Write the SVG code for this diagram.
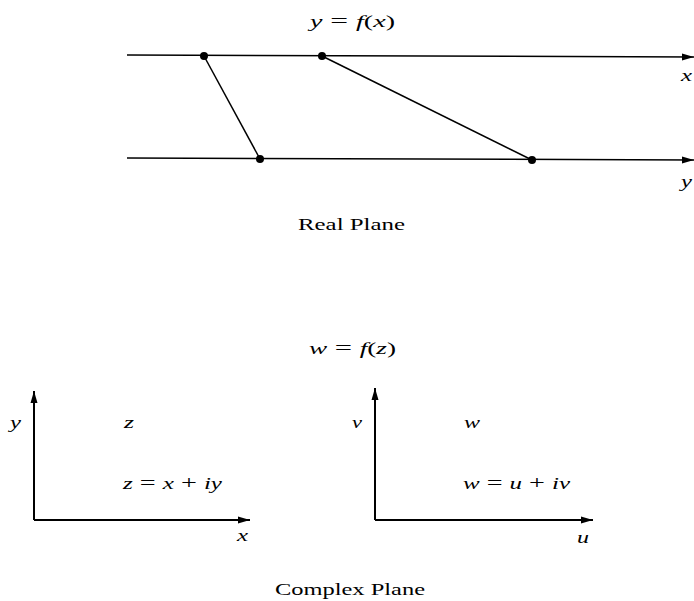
<svg xmlns="http://www.w3.org/2000/svg" width="694" height="601" viewBox="0 0 694 601">
<defs>
<marker id="arr" viewBox="0 0 12 8" refX="12" refY="4" markerWidth="12" markerHeight="8" markerUnits="userSpaceOnUse" orient="auto">
<path d="M0,0.5 L12,4 L0,7.5 Z" fill="#000"/>
</marker>
</defs>
<style>
.ln{stroke:#000;stroke-width:1.5;fill:none}
.ax{stroke:#000;stroke-width:2;fill:none}
.m{font-family:"Liberation Serif",serif;font-style:italic;font-size:16px;fill:#000}
.r{font-family:"Liberation Serif",serif;font-size:16px;fill:#000}
.n{font-style:normal}
.op{font-style:normal;font-size:18px}
.dot{fill:#000}
</style>
<rect width="694" height="601" fill="#fff"/>
<g id="connectors">
<line class="ln" x1="127" y1="55" x2="694" y2="57" marker-end="url(#arr)"/>
<line class="ln" x1="127" y1="158" x2="694" y2="160" marker-end="url(#arr)"/>
<line class="ln" x1="204" y1="56" x2="260" y2="159"/>
<line class="ln" x1="322" y1="56" x2="532" y2="160"/>
<line class="ax" x1="34" y1="520" x2="34" y2="391" marker-end="url(#arr)"/>
<line class="ax" x1="34" y1="520" x2="250" y2="520" marker-end="url(#arr)"/>
<line class="ax" x1="375" y1="520" x2="375" y2="388" marker-end="url(#arr)"/>
<line class="ax" x1="375" y1="520" x2="593" y2="520" marker-end="url(#arr)"/>
</g>
<g id="real-plane">
<circle class="dot" cx="204" cy="56" r="4"/>
<circle class="dot" cx="322" cy="56" r="4"/>
<circle class="dot" cx="260" cy="159" r="4"/>
<circle class="dot" cx="532" cy="160" r="4"/>
<text class="m" x="310" y="27" textLength="85" lengthAdjust="spacingAndGlyphs">y<tspan class="op">&#160;=&#160;</tspan>f<tspan class="n">(</tspan>x<tspan class="n">)</tspan></text>
<text class="m" x="681" y="81" textLength="11" lengthAdjust="spacingAndGlyphs">x</text>
<text class="m" x="681" y="187" textLength="11" lengthAdjust="spacingAndGlyphs">y</text>
<text class="r" x="298" y="230" textLength="107" lengthAdjust="spacingAndGlyphs">Real Plane</text>
</g>
<g id="complex-plane">
<text class="m" x="309" y="354" textLength="87" lengthAdjust="spacingAndGlyphs">w<tspan class="op">&#160;=&#160;</tspan>f<tspan class="n">(</tspan>z<tspan class="n">)</tspan></text>
<text class="m" x="10" y="428" textLength="11" lengthAdjust="spacingAndGlyphs">y</text>
<text class="m" x="124" y="428" textLength="10" lengthAdjust="spacingAndGlyphs">z</text>
<text class="m" x="123" y="489" textLength="99" lengthAdjust="spacingAndGlyphs">z<tspan class="op">&#160;=&#160;</tspan>x<tspan class="op">&#160;+&#160;</tspan>iy</text>
<text class="m" x="237" y="541" textLength="11" lengthAdjust="spacingAndGlyphs">x</text>
<text class="m" x="352" y="428" textLength="10" lengthAdjust="spacingAndGlyphs">v</text>
<text class="m" x="464" y="428" textLength="16" lengthAdjust="spacingAndGlyphs">w</text>
<text class="m" x="463" y="489" textLength="107" lengthAdjust="spacingAndGlyphs">w<tspan class="op">&#160;=&#160;</tspan>u<tspan class="op">&#160;+&#160;</tspan>iv</text>
<text class="m" x="577" y="543" textLength="12" lengthAdjust="spacingAndGlyphs">u</text>
<text class="r" x="275" y="595" textLength="150" lengthAdjust="spacingAndGlyphs">Complex Plane</text>
</g>
</svg>
